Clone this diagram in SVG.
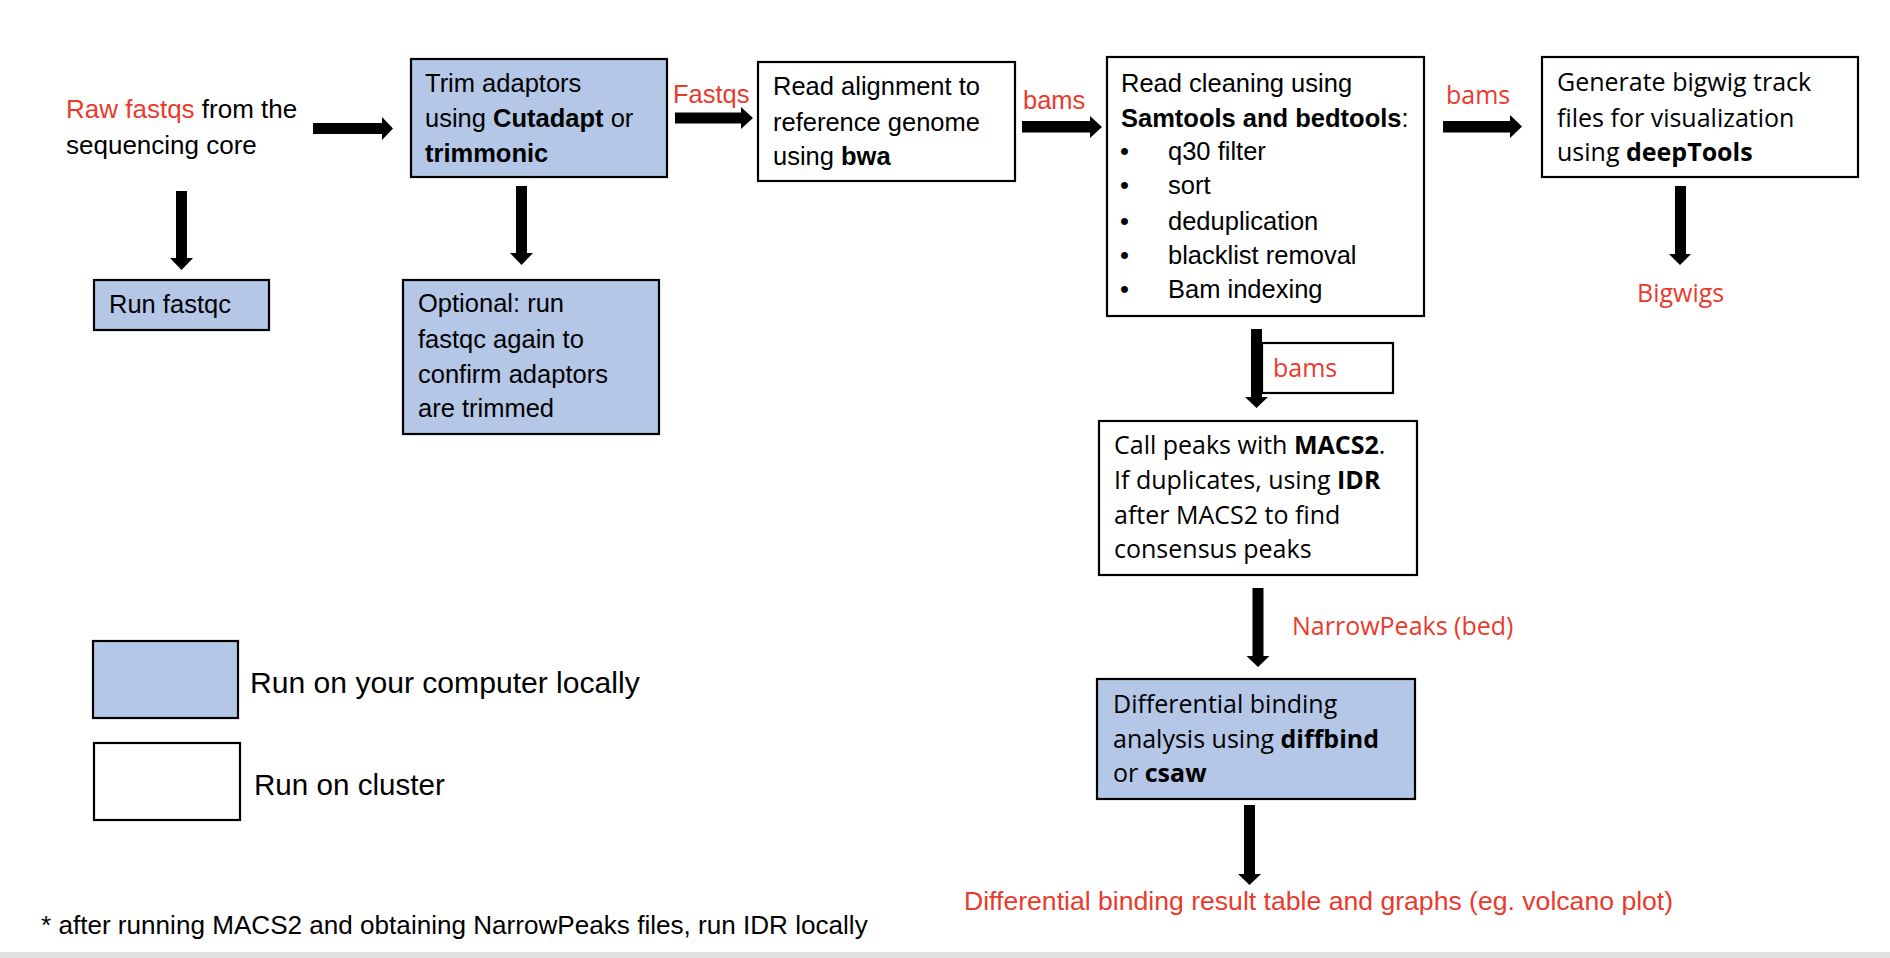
<svg xmlns="http://www.w3.org/2000/svg" width="1890" height="958" viewBox="0 0 1890 958">
<defs>
<style>
.box{stroke:#000;stroke-width:2.2}
.local{fill:#B4C7E7}
.cluster{fill:#FFFFFF}
.ta{font-family:"Liberation Sans",Arial,sans-serif;font-size:25.5px;fill:#000}
.tb{font-family:"Open Sans","Noto Sans",sans-serif;font-size:25px;fill:#000}
.red{fill:#EA3A2D}
.b{font-weight:bold}
.arrow{fill:#000}
</style>
</defs>
<rect x="0" y="0" width="1890" height="958" fill="#FFFFFF"/>
<rect x="0" y="952" width="1890" height="6" fill="#E2E2E2"/>

<g id="raw-fastqs">
<text class="ta" x="66" y="118" style="font-size:26px"><tspan class="red">Raw fastqs</tspan> from the</text>
<text class="ta" x="66" y="154" style="font-size:26px">sequencing core</text>
</g>

<g id="trim-adaptors">
<rect class="box local" x="411" y="59" width="256" height="118"/>
<text class="ta" x="425" y="92">Trim adaptors</text>
<text class="ta" x="425" y="127">using <tspan class="b">Cutadapt</tspan> or</text>
<text class="ta" x="425" y="162"><tspan class="b">trimmonic</tspan></text>
</g>

<g id="run-fastqc">
<rect class="box local" x="94" y="280" width="175" height="50"/>
<text class="ta" x="109" y="313">Run fastqc</text>
</g>

<g id="optional-fastqc">
<rect class="box local" x="403" y="280" width="256" height="154"/>
<text class="ta" x="418" y="312">Optional: run</text>
<text class="ta" x="418" y="348">fastqc again to</text>
<text class="ta" x="418" y="383">confirm adaptors</text>
<text class="ta" x="418" y="417">are trimmed</text>
</g>

<g id="read-alignment">
<rect class="box cluster" x="758" y="62" width="257" height="119"/>
<text class="ta" x="773" y="95">Read alignment to</text>
<text class="ta" x="773" y="131">reference genome</text>
<text class="ta" x="773" y="165">using <tspan class="b">bwa</tspan></text>
</g>

<g id="read-cleaning">
<rect class="box cluster" x="1107" y="57" width="317" height="259"/>
<text class="ta" x="1121" y="92">Read cleaning using</text>
<text class="ta" x="1121" y="127"><tspan class="b">Samtools and bedtools</tspan>:</text>
<text class="ta" x="1120" y="160">•</text><text class="ta" x="1168" y="160">q30 filter</text>
<text class="ta" x="1120" y="194">•</text><text class="ta" x="1168" y="194">sort</text>
<text class="ta" x="1120" y="230">•</text><text class="ta" x="1168" y="230">deduplication</text>
<text class="ta" x="1120" y="264">•</text><text class="ta" x="1168" y="264">blacklist removal</text>
<text class="ta" x="1120" y="298">•</text><text class="ta" x="1168" y="298">Bam indexing</text>
</g>

<g id="generate-bigwig">
<rect class="box cluster" x="1542" y="57" width="316" height="120"/>
<text class="tb" x="1557" y="91">Generate bigwig track</text>
<text class="tb" x="1557" y="127">files for visualization</text>
<text class="tb" x="1557" y="161">using <tspan class="b">deepTools</tspan></text>
</g>

<g id="bigwigs">
<text class="tb red" x="1637" y="302">Bigwigs</text>
</g>

<g id="call-peaks">
<rect class="box cluster" x="1099" y="421" width="318" height="154"/>
<text class="tb" x="1114" y="454">Call peaks with <tspan class="b">MACS2</tspan>.</text>
<text class="tb" x="1114" y="489">If duplicates, using <tspan class="b">IDR</tspan></text>
<text class="tb" x="1114" y="524">after MACS2 to find</text>
<text class="tb" x="1114" y="558">consensus peaks</text>
</g>

<g id="differential-binding">
<rect class="box local" x="1097" y="679" width="318" height="120"/>
<text class="tb" x="1113" y="713">Differential binding</text>
<text class="tb" x="1113" y="748">analysis using <tspan class="b">diffbind</tspan></text>
<text class="tb" x="1113" y="782">or <tspan class="b">csaw</tspan></text>
</g>

<g id="result-table">
<text class="ta red" x="964" y="910" style="font-size:26.6px">Differential binding result table and graphs (eg. volcano plot)</text>
</g>

<g id="legend">
<rect class="box local" x="93" y="641" width="145" height="77"/>
<text class="ta" x="250" y="693" style="font-size:30.1px">Run on your computer locally</text>
<rect class="box cluster" x="94" y="743" width="146" height="77"/>
<text class="ta" x="254" y="795" style="font-size:29.6px">Run on cluster</text>
</g>

<g id="footnote">
<text class="ta" x="41" y="934" style="font-size:26.1px">* after running MACS2 and obtaining NarrowPeaks files, run IDR locally</text>
</g>

<g id="connectors">
<path class="arrow" d="M313,123 H382 V117 L393,128.5 L382,140 V134 H313 Z"/>
<path class="arrow" d="M675,112.5 H741 V107 L753,118 L741,129 V123.5 H675 Z"/>
<path class="arrow" d="M1022,121 H1090 V116 L1102,127 L1090,138 V132.5 H1022 Z"/>
<path class="arrow" d="M1443,121 H1510 V115 L1522,126.5 L1510,138 V132.5 H1443 Z"/>
<path class="arrow" d="M176,191 V258 H170 L181.5,270 L193,258 H187 V191 Z"/>
<path class="arrow" d="M516,186 V253 H510 L521.5,265 L533,253 H527 V186 Z"/>
<path class="arrow" d="M1675,186 V254 H1669 L1680,265 L1691,254 H1686 V186 Z"/>
<path class="arrow" d="M1251,329 V397 H1245 L1256.5,408 L1268,397 H1262 V329 Z"/>
<path class="arrow" d="M1252.5,588 V656 H1246.5 L1258,667 L1269.5,656 H1263.5 V588 Z"/>
<path class="arrow" d="M1244,805 V874 H1238 L1249.5,885 L1261,874 H1255 V805 Z"/>
<g id="edge-labels">
<text class="ta red" x="673" y="103">Fastqs</text>
<text class="ta red" x="1023" y="109">bams</text>
<text class="tb red" x="1446" y="104">bams</text>
<g id="bams-label-box">
<rect class="box cluster" x="1262" y="343" width="131" height="50"/>
<text class="tb red" x="1273" y="377">bams</text>
</g>
<text class="tb red" x="1292" y="635">NarrowPeaks (bed)</text>
</g>
</g>
</svg>
